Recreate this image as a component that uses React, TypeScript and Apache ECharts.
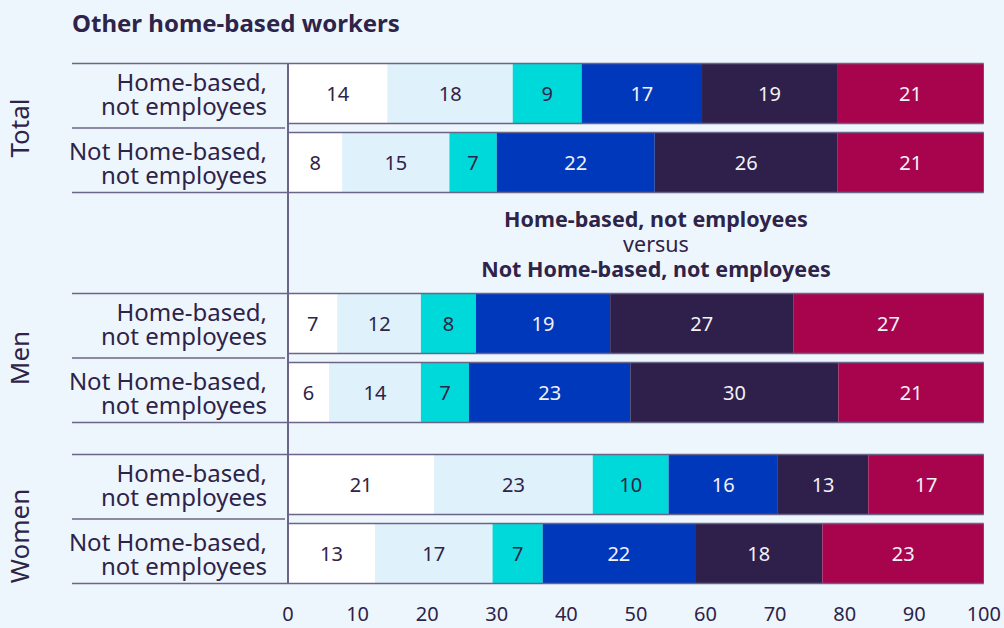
import React, { useEffect, useRef } from "react";
import * as echarts from "echarts";

// ---- data ----
const slotCount = 21;
const rowSlots = [0, 3, 10, 13, 17, 20];
const rowLabels = [
  "Home-based,\nnot employees",
  "Not Home-based,\nnot employees",
  "Home-based,\nnot employees",
  "Not Home-based,\nnot employees",
  "Home-based,\nnot employees",
  "Not Home-based,\nnot employees",
];
const groupNames = ["Total", "Men", "Women"];
const groupRows = [[0, 1], [2, 3], [4, 5]];

const segNames = ["Band 1", "Band 2", "Band 3", "Band 4", "Band 5", "Band 6"];
const seg1 = [14.3, 7.8, 7.1, 5.9, 21.0, 12.5];
const seg2 = [18.0, 15.4, 12.0, 13.2, 22.8, 16.9];
const seg3 = [9.9, 6.8, 7.9, 6.9, 10.9, 7.2];
const seg4 = [17.3, 22.7, 19.3, 23.2, 15.7, 21.9];
const seg5 = [19.4, 26.3, 26.3, 29.9, 13.0, 18.3];
const seg6 = [21.1, 21.0, 27.4, 20.9, 16.6, 23.2];
const lab1 = [14, 8, 7, 6, 21, 13];
const lab2 = [18, 15, 12, 14, 23, 17];
const lab3 = [9, 7, 8, 7, 10, 7];
const lab4 = [17, 22, 19, 23, 16, 22];
const lab5 = [19, 26, 27, 30, 13, 18];
const lab6 = [21, 21, 27, 21, 17, 23];
const xTicks = [0, 10, 20, 30, 40, 50, 60, 70, 80, 90, 100];

const segValues = [seg1, seg2, seg3, seg4, seg5, seg6];
const segLabels = [lab1, lab2, lab3, lab4, lab5, lab6];
const segColors = ["#ffffff", "#dff1fb", "#00d9d9", "#0038bb", "#2e1f4b", "#a8044d"];
const segText = ["#2e2348", "#2e2348", "#2e2348", "#f2f2f7", "#f2f2f7", "#f2f2f7"];

const INK = "#2e2348";
const LINE = "#6b6589";
const BG = "#eef6fd";
const FONT = "'Noto Sans', sans-serif";

export default function App() {
  const ref = useRef<HTMLDivElement>(null);
  useEffect(() => {
    if (!ref.current) return;
    const chart = echarts.init(ref.current, undefined, { renderer: "svg" });

    const categories = Array.from({ length: slotCount }, (_, i) => {
      const r = rowSlots.indexOf(i);
      return r >= 0 ? rowLabels[r] : "";
    });

    const series = segValues.map((vals, s) => {
      const data: any[] = Array.from({ length: slotCount }, () => "-");
      rowSlots.forEach((slot, r) => {
        data[slot] = { value: vals[r], labelText: segLabels[s][r] };
      });
      return {
        type: "bar",
        name: segNames[s],
        stack: "all",
        barWidth: 59,
        clip: false,
        data,
        itemStyle: { color: segColors[s] },
        label: {
          show: true,
          position: "inside",
          color: segText[s],
          fontFamily: FONT,
          fontSize: 20,
          formatter: (p: any) => String(p.data.labelText),
        },
      };
    });

    const option: any = {
      animation: false,
      backgroundColor: BG,
      grid: { left: 288, right: 17, top: 82, height: 483, containLabel: false },
      xAxis: {
        type: "value",
        min: 0,
        max: 100,
        interval: 10,
        axisLine: { show: false },
        axisTick: { show: false },
        splitLine: { show: false },
        axisLabel: {
          color: INK,
          fontFamily: FONT,
          fontSize: 20,
          margin: 38,
          formatter: (v: number) => (xTicks.includes(v) ? String(v) : ""),
        },
      },
      yAxis: {
        type: "category",
        inverse: true,
        data: categories,
        axisLine: { show: false },
        axisTick: { show: false },
        axisLabel: {
          interval: 0,
          color: INK,
          fontFamily: FONT,
          fontSize: 24,
          lineHeight: 24,
          margin: 21,
          align: "right",
        },
      },
      series,
    };
    chart.setOption(option);

    const px = (v: number) => chart.convertToPixel({ xAxisIndex: 0 }, v) as number;
    const py = (i: number) => chart.convertToPixel({ yAxisIndex: 0 }, i) as number;
    const x0 = px(0);
    const x100 = px(100);
    const half = 30;
    const els: any[] = [];
    const hline = (xa: number, xb: number, y: number) =>
      els.push({
        type: "line",
        shape: { x1: xa, y1: y, x2: xb, y2: y },
        style: { stroke: LINE, lineWidth: 1.5 },
        z: 10,
      });
    rowSlots.forEach((slot) => {
      const c = py(slot);
      hline(x0, x100, c - half);
      hline(x0, x100, c + half);
    });
    groupRows.forEach(([a, b], g) => {
      const ca = py(rowSlots[a]);
      const cb = py(rowSlots[b]);
      hline(72, x0, ca - half);
      hline(72, x0 - 3, (ca + cb) / 2);
      hline(72, x0, cb + half);
      const centers = [(ca + cb) / 2, (ca + cb) / 2, (ca + cb) / 2 + 17];
      els.push({
        type: "text",
        x: 19,
        y: centers[g],
        rotation: Math.PI / 2,
        style: {
          text: groupNames[g],
          x: 0,
          y: 0,
          align: "center",
          verticalAlign: "middle",
          fill: INK,
          font: `26px ${FONT}`,
        },
      });
    });
    els.push({
      type: "line",
      shape: { x1: x0, y1: py(rowSlots[0]) - half, x2: x0, y2: py(rowSlots[5]) + half },
      style: { stroke: LINE, lineWidth: 2 },
      z: 11,
    });
    els.push({
      type: "text",
      x: 72,
      y: 22,
      style: {
        text: "Other home-based workers",
        align: "left",
        verticalAlign: "middle",
        fill: INK,
        font: `bold 24px ${FONT}`,
      },
    });
    const midX = 656;
    [
      ["Home-based, not employees", "bold", 218],
      ["versus", "normal", 243],
      ["Not Home-based, not employees", "bold", 268],
    ].forEach(([t, w, y]) => {
      els.push({
        type: "text",
        x: midX,
        y: y as number,
        style: {
          text: t as string,
          align: "center",
          verticalAlign: "middle",
          fill: INK,
          font: `${w} 21.5px ${FONT}`,
        },
      });
    });
    chart.setOption({ graphic: els });

    return () => chart.dispose();
  }, []);
  return (
    <div
      ref={ref}
      style={{ position: "fixed", left: 0, top: 0, width: 1004, height: 628 }}
    />
  );
}
